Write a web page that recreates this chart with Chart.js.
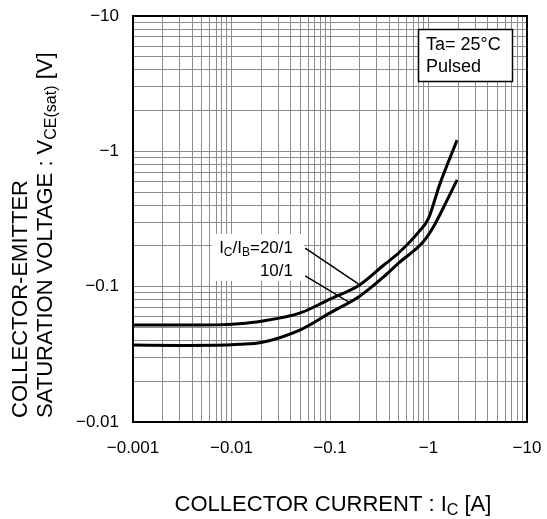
<!DOCTYPE html>
<html>
<head>
<meta charset="utf-8">
<script src="https://cdn.jsdelivr.net/npm/chart.js@4"></script>
<style>
  html, body { margin: 0; padding: 0; background: #fff; }
</style>
</head>
<body>
<canvas id="grafica" width="547" height="519"></canvas>
<script>
// Valores (magnitudes, los signos van en las etiquetas)
const corriente20 = [0.001, 0.003, 0.007, 0.012, 0.02, 0.05, 0.1, 0.2, 0.35, 0.5, 0.8, 1.0, 1.3, 1.95];
const vce20 = [0.052, 0.052, 0.0522, 0.0532, 0.0555, 0.064, 0.081, 0.103, 0.144, 0.178, 0.255, 0.32, 0.57, 1.21];

const corriente10 = [0.001, 0.003, 0.007, 0.012, 0.02, 0.05, 0.1, 0.2, 0.35, 0.5, 0.88, 1.12, 1.55, 1.95];
const vce10 = [0.037, 0.0368, 0.0369, 0.0375, 0.0387, 0.048, 0.064, 0.085, 0.118, 0.150, 0.214, 0.276, 0.438, 0.615];

// Líneas de referencia de las etiquetas
const guiaX20 = [0.056, 0.194];
const guiaY20 = [0.193, 0.105];
const guiaX10 = [0.056, 0.160];
const guiaY10 = [0.120, 0.076];

const decadasX = [0.001, 0.01, 0.1, 1, 10];
const etiquetasX = ['\u22120.001', '\u22120.01', '\u22120.1', '\u22121', '\u221210'];
const decadasY = [0.01, 0.1, 1, 10];
const etiquetasY = ['\u22120.01', '\u22120.1', '\u22121', '\u221210'];

const FUENTE = '"Liberation Sans", Arial, sans-serif';

function puntos(xs, ys) {
  return xs.map((x, i) => ({ x: x, y: ys[i] }));
}

// ticks 1..9 de cada década, para la rejilla
function ticksLog(decadas) {
  const ticks = [];
  decadas.forEach((d, i) => {
    if (i === decadas.length - 1) { ticks.push({ value: d }); return; }
    for (let m = 1; m <= 9; m++) ticks.push({ value: +(d * m).toPrecision(6) });
  });
  return ticks;
}

function etiquetaDe(valor, decadas, etiquetas) {
  const i = decadas.findIndex(d => Math.abs(d - valor) / d < 1e-6);
  return i >= 0 ? etiquetas[i] : '';
}

// sin márgenes extra por las etiquetas de los extremos
function sinRelleno(s) {
  s.paddingTop = 0; s.paddingBottom = 0; s.paddingLeft = 0; s.paddingRight = 0;
}

// texto con subíndices: partes = [[texto, esSub], ...]
function textoRico(ctx, partes, x, y, tam, alinear) {
  const fuenteDe = p => (p[1] ? Math.round(tam * 0.72) : tam) + 'px ' + FUENTE;
  const ancho = p => { ctx.font = fuenteDe(p); return ctx.measureText(p[0]).width; };
  const total = partes.reduce((s, p) => s + ancho(p), 0);
  let cx = alinear === 'right' ? x - total : alinear === 'center' ? x - total / 2 : x;
  ctx.textAlign = 'left';
  ctx.textBaseline = 'alphabetic';
  partes.forEach(p => {
    const w = ancho(p);
    ctx.font = fuenteDe(p);
    ctx.fillText(p[0], cx, p[1] ? y + tam * 0.16 : y);
    cx += w;
  });
}

const textos = {
  id: 'textos',
  beforeDatasetsDraw(chart) {
    const ctx = chart.ctx;
    ctx.save();
    // etiquetas de las curvas
    ctx.fillStyle = '#fff';
    ctx.fillRect(212, 234, 92, 47);
    ctx.fillStyle = '#000';
    textoRico(ctx, [['I', false], ['C', true], ['/I', false], ['B', true], ['=20/1', false]], 293, 253, 17, 'right');
    textoRico(ctx, [['10/1', false]], 293, 276, 17, 'right');
    // recuadro de condiciones
    ctx.fillStyle = '#fff';
    ctx.fillRect(418.5, 29.5, 94, 52);
    ctx.strokeStyle = '#000';
    ctx.lineWidth = 1.5;
    ctx.strokeRect(418.5, 29.5, 94, 52);
    ctx.fillStyle = '#000';
    textoRico(ctx, [['Ta= 25\u00B0C', false]], 426, 50, 18, 'left');
    textoRico(ctx, [['Pulsed', false]], 426, 72, 18, 'left');
    ctx.restore();
  },
  afterDatasetsDraw(chart) {
    const ctx = chart.ctx;
    const a = chart.chartArea;
    ctx.save();
    ctx.strokeStyle = '#000';
    ctx.lineWidth = 2;
    ctx.strokeRect(a.left, a.top, a.right - a.left, a.bottom - a.top);
    ctx.fillStyle = '#000';
    // título eje X
    textoRico(ctx, [['COLLECTOR CURRENT : I', false], ['C', true], [' [A]', false]], (a.left + a.right) / 2 + 3, 511, 22, 'center');
    // título eje Y (dos líneas, giradas)
    ctx.translate(27, 418);
    ctx.rotate(-Math.PI / 2);
    textoRico(ctx, [['COLLECTOR-EMITTER', false]], 0, 0, 22, 'left');
    ctx.rotate(Math.PI / 2);
    ctx.translate(25, 0);
    ctx.rotate(-Math.PI / 2);
    textoRico(ctx, [['SATURATION VOLTAGE : V', false], ['CE(sat)', true], [' [V]', false]], 0, 0, 22, 'left');
    ctx.restore();
  }
};

const ctx = document.getElementById('grafica').getContext('2d');
new Chart(ctx, {
  type: 'line',
  data: {
    datasets: [
      { label: '20/1', data: puntos(corriente20, vce20), borderColor: '#000', borderWidth: 3, cubicInterpolationMode: 'monotone' },
      { label: '10/1', data: puntos(corriente10, vce10), borderColor: '#000', borderWidth: 3, cubicInterpolationMode: 'monotone' },
      { label: 'guia20', data: puntos(guiaX20, guiaY20), borderColor: '#000', borderWidth: 1.5, tension: 0 },
      { label: 'guia10', data: puntos(guiaX10, guiaY10), borderColor: '#000', borderWidth: 1.5, tension: 0 }
    ]
  },
  options: {
    responsive: false,
    animation: false,
    elements: { point: { radius: 0 } },
    layout: { padding: { left: 0, top: 16, right: 20, bottom: 0 } },
    plugins: { legend: { display: false }, tooltip: { enabled: false } },
    scales: {
      x: {
        type: 'logarithmic',
        min: 0.001,
        max: 10,
        afterBuildTicks: s => { s.ticks = ticksLog(decadasX); },
        afterFit: s => { s.height = 97; sinRelleno(s); },
        grid: { color: '#8c8c8c', lineWidth: 1, drawTicks: false },
        border: { display: false },
        ticks: {
          autoSkip: false,
          maxRotation: 0,
          padding: 16,
          color: '#000',
          font: { family: FUENTE, size: 17 },
          callback: v => etiquetaDe(v, decadasX, etiquetasX)
        }
      },
      y: {
        type: 'logarithmic',
        min: 0.01,
        max: 10,
        afterBuildTicks: s => { s.ticks = ticksLog(decadasY); },
        afterFit: s => { s.width = 133; sinRelleno(s); },
        grid: { color: '#8c8c8c', lineWidth: 1, drawTicks: false },
        border: { display: false },
        ticks: {
          autoSkip: false,
          padding: 14,
          color: '#000',
          font: { family: FUENTE, size: 17 },
          callback: v => etiquetaDe(v, decadasY, etiquetasY)
        }
      }
    }
  },
  plugins: [textos]
});
</script>
</body>
</html>
